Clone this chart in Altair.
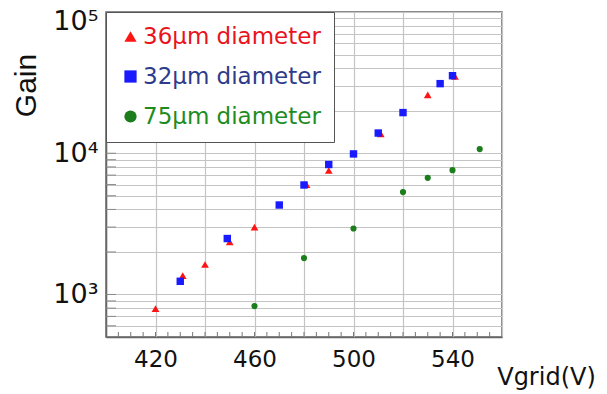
import altair as alt
import pandas as pd

# ---- data ----
series_names = ["36μm diameter", "32μm diameter", "75μm diameter"]
series_colors = ["#ff1414", "#1a1aff", "#1c7d1c"]
label_colors = ["#e8141c", "#2e3b8a", "#1e8c1e"]
series_shapes = ["triangle-up", "square", "circle"]
series_sizes = [60, 55, 38]

v36 = [420, 431, 440, 450, 460, 481, 490, 511, 530, 541]
g36 = [793, 1360, 1630, 2360, 3000, 6000, 7550, 13700, 25900, 35000]

v32 = [430, 449, 470, 480, 490, 500, 510, 520, 535, 540]
g32 = [1240, 2490, 4300, 5960, 8320, 9890, 13900, 19400, 31100, 35400]

v75 = [460, 480, 500, 520, 530, 540, 551]
g75 = [828, 1810, 2930, 5310, 6700, 7590, 10700]

x_grid_values = [400, 420, 440, 460, 480, 500, 520, 540, 560]
x_label_values = [420, 460, 500, 540]
x_minor_ticks = list(range(405, 560, 5))
y_grid_values = [600, 700, 800, 900,
                 1000, 2000, 3000, 4000, 5000, 6000, 7000, 8000, 9000,
                 10000, 20000, 30000, 40000, 50000, 60000, 70000, 80000, 90000,
                 100000]

rows = []
for name, vs, gs in zip(series_names, [v36, v32, v75], [g36, g32, g75]):
    for v, g in zip(vs, gs):
        rows.append({"series": name, "V": v, "G": g})
df = pd.DataFrame(rows)

FONT = "DejaVu Sans"
W, H = 396, 325

x_enc = alt.X(
    "V:Q",
    scale=alt.Scale(domain=[400, 560], nice=False, zero=False),
    axis=alt.Axis(
        values=x_grid_values,
        labelExpr="indexof([" + ",".join(str(v) for v in x_label_values) + "], datum.value) >= 0 ? datum.label : ''",
        ticks=False,
        grid=True,
        gridColor="#c4c4c4",
        gridWidth=1.2,
        domainColor="#666666",
        domainWidth=1.5,
        labelFont=FONT,
        labelFontSize=23,
        labelColor="#111111",
        labelPadding=11,
        labelFlush=False,
        labelOverlap=False,
        title="Vgrid(V)",
        titleFont=FONT,
        titleFontSize=24,
        titleFontWeight="normal",
        titleColor="#111111",
        titleAnchor="start",
        titleAlign="center",
        titleBaseline="alphabetic",
        titleX=440,
        titleY=47,
    ),
)

y_enc = alt.Y(
    "G:Q",
    scale=alt.Scale(type="log", domain=[500, 100000], nice=False),
    axis=alt.Axis(
        values=y_grid_values,
        labelExpr="datum.value == 1000 ? '10³' : datum.value == 10000 ? '10⁴' : datum.value == 100000 ? '10⁵' : ''",
        labelOffset={"condition": {"test": "datum.value == 100000", "value": 9}, "value": 0},
        ticks=False,
        grid=True,
        gridColor="#c4c4c4",
        gridWidth=1.2,
        domainColor="#666666",
        domainWidth=1.5,
        labelFont=FONT,
        labelFontSize=27,
        labelColor="#111111",
        labelPadding=8,
        labelFlush=False,
        labelOverlap=False,
        title="Gain",
        titleFont="Liberation Sans",
        titleFontSize=30,
        titleFontWeight="normal",
        titleColor="#111111",
        titleAngle=270,
        titleAlign="center",
        titleBaseline="alphabetic",
        titleX=-71,
        titleY=73,
    ),
)

label_color_expr = (
    "datum.label == '" + series_names[0] + "' ? '" + label_colors[0] + "' : "
    "datum.label == '" + series_names[1] + "' ? '" + label_colors[1] + "' : '" + label_colors[2] + "'"
)

legend = alt.Legend(
    title=None,
    orient="none",
    legendX=0,
    legendY=0,
    padding=13,
    fillColor="white",
    strokeColor="#555555",
    labelFont=FONT,
    labelFontSize=23,
    labelColor={"expr": label_color_expr},
    labelOffset=1,
    labelLimit=400,
    rowPadding=16,
    symbolSize=150,
    symbolStrokeWidth=0,
    zindex=5,
)

color_enc = alt.Color("series:N", scale=alt.Scale(domain=series_names, range=series_colors), legend=legend)
shape_enc = alt.Shape("series:N", scale=alt.Scale(domain=series_names, range=series_shapes), legend=legend)

base = alt.Chart(df).encode(x=x_enc, y=y_enc, color=color_enc, shape=shape_enc)

layers = []
for name, size in zip(series_names, series_sizes):
    layers.append(
        base.transform_filter(alt.datum.series == name).mark_point(filled=True, size=size, opacity=1)
    )

xt = pd.DataFrame({"V": x_minor_ticks})
x_ticks = alt.Chart(xt).mark_rule(color="#777777", strokeWidth=1).encode(
    x=x_enc, y=alt.value(H), y2=alt.value(H - 5)
)
yt = pd.DataFrame({"G": y_grid_values})
y_ticks = alt.Chart(yt).mark_rule(color="#888888", strokeWidth=1).encode(
    y=y_enc, x=alt.value(0), x2=alt.value(10)
)

chart = alt.layer(x_ticks, y_ticks, *layers).properties(
    width=W,
    height=H,
    autosize=alt.AutoSizeParams(type="none"),
    padding={"left": 98, "top": 4, "right": 97, "bottom": 55},
    background="white",
).configure_view(
    stroke="#666666", strokeWidth=1.5
)

chart.save("out.html", embed_options={"renderer": "svg", "actions": False})
